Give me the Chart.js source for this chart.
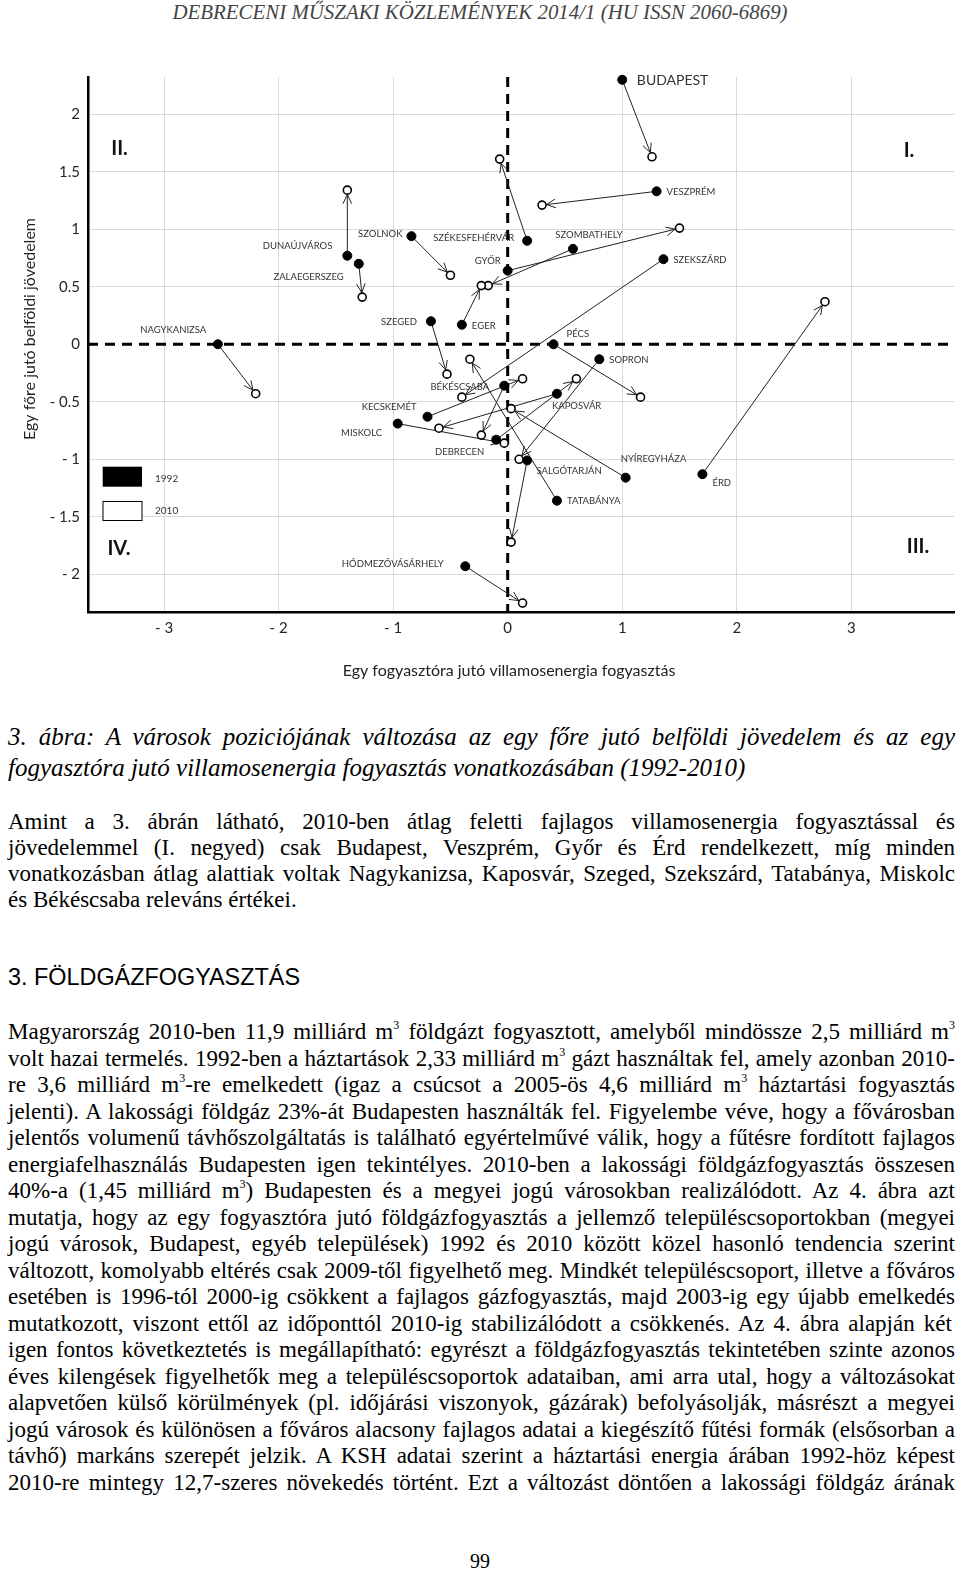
<!DOCTYPE html>
<html>
<head>
<meta charset="utf-8">
<script src="https://cdn.jsdelivr.net/npm/chart.js@4.4.0/dist/chart.umd.min.js"></script>
<style>
body{margin:0;width:960px;height:1575px;position:relative;background:#fff;overflow:hidden}
#chart{position:absolute;left:0;top:0}
.ln{position:absolute;left:8px;white-space:nowrap;font-family:"Liberation Serif","Times New Roman",serif;font-size:23px;line-height:26px;color:#000}
.it{font-style:italic;font-size:25px;line-height:30px}
sup{font-size:12px;line-height:0;vertical-align:0;position:relative;top:-10px}
#head{position:absolute;left:0;width:960px;top:0px;text-align:center;font-family:"Liberation Serif",serif;font-style:italic;font-size:20.9px;color:#444;white-space:nowrap}
#h3{position:absolute;left:8px;top:964px;font-family:"Liberation Sans",Arial,sans-serif;font-size:23.4px;color:#000;white-space:nowrap}
#pg{position:absolute;left:0;width:960px;top:1550px;text-align:center;font-family:"Liberation Serif",serif;font-size:20px;color:#000}
</style>
</head>
<body>
<div id="head">DEBRECENI MŰSZAKI KÖZLEMÉNYEK 2014/1 (HU ISSN 2060-6869)</div>
<canvas id="chart" width="960" height="700"></canvas>

<div class="ln it j" style="top:722px">3. ábra: A városok poziciójának változása az egy főre jutó belföldi jövedelem és az egy</div>
<div class="ln it" style="top:753px">fogyasztóra jutó villamosenergia fogyasztás vonatkozásában (1992-2010)</div>

<div class="ln j" style="top:809px">Amint a 3. ábrán látható, 2010-ben átlag feletti fajlagos villamosenergia fogyasztással és</div>
<div class="ln j" style="top:835px">jövedelemmel (I. negyed) csak Budapest, Veszprém, Győr és Érd rendelkezett, míg minden</div>
<div class="ln j" style="top:861px">vonatkozásban átlag alattiak voltak Nagykanizsa, Kaposvár, Szeged, Szekszárd, Tatabánya, Miskolc</div>
<div class="ln" style="top:887px">és Békéscsaba releváns értékei.</div>

<div id="h3">3. FÖLDGÁZFOGYASZTÁS</div>

<div class="ln j" style="top:1019px">Magyarország 2010-ben 11,9 milliárd m<sup>3</sup> földgázt fogyasztott, amelyből mindössze 2,5 milliárd m<sup>3</sup></div>
<div class="ln j" style="top:1045.5px">volt hazai termelés. 1992-ben a háztartások 2,33 milliárd m<sup>3</sup> gázt használtak fel, amely azonban 2010-</div>
<div class="ln j" style="top:1072px">re 3,6 milliárd m<sup>3</sup>-re emelkedett (igaz a csúcsot a 2005-ös 4,6 milliárd m<sup>3</sup> háztartási fogyasztás</div>
<div class="ln j" style="top:1098.5px">jelenti). A lakossági földgáz 23%-át Budapesten használták fel. Figyelembe véve, hogy a fővárosban</div>
<div class="ln j" style="top:1125px">jelentős volumenű távhőszolgáltatás is található egyértelművé válik, hogy a fűtésre fordított fajlagos</div>
<div class="ln j" style="top:1151.5px">energiafelhasználás Budapesten igen tekintélyes. 2010-ben a lakossági földgázfogyasztás összesen</div>
<div class="ln j" style="top:1178px">40%-a (1,45 milliárd m<sup>3</sup>) Budapesten és a megyei jogú városokban realizálódott. Az 4. ábra azt</div>
<div class="ln j" style="top:1204.5px">mutatja, hogy az egy fogyasztóra jutó földgázfogyasztás a jellemző településcsoportokban (megyei</div>
<div class="ln j" style="top:1231px">jogú városok, Budapest, egyéb települések) 1992 és 2010 között közel hasonló tendencia szerint</div>
<div class="ln j" style="top:1257.5px">változott, komolyabb eltérés csak 2009-től figyelhető meg. Mindkét településcsoport, illetve a főváros</div>
<div class="ln j" style="top:1284px">esetében is 1996-tól 2000-ig csökkent a fajlagos gázfogyasztás, majd 2003-ig egy újabb emelkedés</div>
<div class="ln j" style="top:1310.5px">mutatkozott, viszont ettől az időponttól 2010-ig stabilizálódott a csökkenés.  Az 4. ábra alapján két</div>
<div class="ln j" style="top:1337px">igen fontos következtetés is megállapítható: egyrészt a földgázfogyasztás tekintetében szinte azonos</div>
<div class="ln j" style="top:1363.5px">éves kilengések figyelhetők meg a településcsoportok adataiban, ami arra utal, hogy a változásokat</div>
<div class="ln j" style="top:1390px">alapvetően külső körülmények (pl. időjárási viszonyok, gázárak) befolyásolják, másrészt a megyei</div>
<div class="ln j" style="top:1416.5px">jogú városok és különösen a főváros alacsony fajlagos adatai a kiegészítő fűtési formák (elsősorban a</div>
<div class="ln j" style="top:1443px">távhő) markáns szerepét jelzik. A KSH adatai szerint a háztartási energia árában 1992-höz képest</div>
<div class="ln j" style="top:1469.5px">2010-re mintegy 12,7-szeres növekedés történt. Ezt a változást döntően a lakossági földgáz árának</div>

<div id="pg">99</div>

<script>
// villamosenergia (x) es jovedelem (y) eltérés az átlagtól, 1992 -> 2010
var cities = ['BUDAPEST','VESZPRÉM','SZÉKESFEHÉRVÁR','SZOMBATHELY','GYŐR','SZEKSZÁRD','DUNAÚJVÁROS','ZALAEGERSZEG','SZOLNOK','SZEGED','EGER','NAGYKANIZSA','PÉCS','SOPRON','BÉKÉSCSABA','KECSKEMÉT','KAPOSVÁR','MISKOLC','DEBRECEN','NYÍREGYHÁZA','SALGÓTARJÁN','ÉRD','TATABÁNYA','HÓDMEZŐVÁSÁRHELY']
var villany1992 = [1.00, 1.30, 0.17, 0.57, 0.00, 1.36, -1.40, -1.30, -0.84, -0.67, -0.40, -2.53, 0.40, 0.80, -0.03, -0.70, 0.43, -0.96, -0.10, 1.03, 0.17, 1.70, 0.43, -0.37]
var jovedelem1992 = [2.30, 1.33, 0.90, 0.83, 0.64, 0.74, 0.77, 0.70, 0.94, 0.20, 0.17, 0.00, 0.00, -0.13, -0.36, -0.63, -0.43, -0.69, -0.83, -1.16, -1.01, -1.13, -1.36, -1.93]
var villany2010 = [1.26, 0.30, -0.07, -0.17, 1.50, -0.40, -1.40, -1.27, -0.50, -0.53, -0.23, -2.20, 1.16, 0.10, -0.23, 0.13, -0.60, -0.03, 0.60, 0.03, 0.03, 2.77, -0.33, 0.13]
var jovedelem2010 = [1.63, 1.21, 1.61, 0.51, 1.01, -0.46, 1.34, 0.41, 0.60, -0.26, 0.51, -0.43, -0.46, -1.00, -0.79, -0.30, -0.73, -0.86, -0.30, -0.56, -1.72, 0.37, -0.13, -2.25]

var xTicks = [-3, -2, -1, 0, 1, 2, 3]
var xTickLabels = ['- 3', '- 2', '- 1', '0', '1', '2', '3']
var yTicks = [-2, -1.5, -1, -0.5, 0, 0.5, 1, 1.5, 2]
var yTickLabels = ['- 2', '- 1.5', '- 1', '- 0.5', '0', '0.5', '1', '1.5', '2']
var quadrants = ['I.', 'II.', 'III.', 'IV.']
var years = ['1992', '2010']

// label placement next to the 1992 dot: dx, dy, align
var labelPos = [
  [14.6, 1, 'left'], [10, 1, 'left'], [-13, -3, 'right'], [-17.6, -14, 'left'],
  [-7, -10, 'right'], [10, 1, 'left'], [-15, -10, 'right'], [-15, 13, 'right'],
  [-9, -2, 'right'], [-14, 1, 'right'], [10, 1, 'left'], [-11.6, -14.4, 'right'],
  [13, -10, 'left'], [10, 1, 'left'], [-15, 1.5, 'right'], [-11, -10, 'right'],
  [-5, 12.6, 'left'], [-15.6, 9, 'right'], [-12, 12.7, 'right'], [-5, -18.4, 'left'],
  [9.4, 10.7, 'left'], [10, 8.6, 'left'], [10, 0, 'left'], [-21.7, -2.7, 'right']
]

var FONT = 'Lato, "Open Sans", sans-serif'

var extras = {
  id: 'extras',
  beforeDatasetsDraw: function(chart) {
    var c = chart.ctx, a = chart.chartArea
    var xs = chart.scales.x, ys = chart.scales.y
    var x0 = xs.getPixelForValue(0), y0 = ys.getPixelForValue(0)
    c.save()
    c.strokeStyle = '#000'
    c.lineWidth = 3
    c.setLineDash([10, 7])
    c.beginPath()
    c.moveTo(a.left, y0); c.lineTo(952, y0)
    c.moveTo(x0, a.top); c.lineTo(x0, a.bottom)
    c.stroke()
    c.setLineDash([])
    // arrows 1992 -> 2010
    c.lineWidth = 1
    c.strokeStyle = '#222'
    for (var i = 0; i < cities.length; i++) {
      var x1 = xs.getPixelForValue(villany1992[i]), y1 = ys.getPixelForValue(jovedelem1992[i])
      var x2 = xs.getPixelForValue(villany2010[i]), y2 = ys.getPixelForValue(jovedelem2010[i])
      var dx = x2 - x1, dy = y2 - y1, len = Math.sqrt(dx * dx + dy * dy)
      var ux = dx / len, uy = dy / len
      var ex = x2 - ux * 4.5, ey = y2 - uy * 4.5
      c.beginPath()
      c.moveTo(x1, y1); c.lineTo(ex, ey)
      var ang = Math.atan2(uy, ux)
      for (var s = -1; s <= 1; s += 2) {
        var aa = ang + Math.PI + s * 0.45
        c.moveTo(ex, ey); c.lineTo(ex + Math.cos(aa) * 10, ey + Math.sin(aa) * 10)
      }
      c.stroke()
    }
    c.restore()
  },
  afterDatasetsDraw: function(chart) {
    var c = chart.ctx
    var xs = chart.scales.x, ys = chart.scales.y
    c.save()
    c.fillStyle = '#333'
    c.textBaseline = 'middle'
    for (var i = 0; i < cities.length; i++) {
      var px = xs.getPixelForValue(villany1992[i]), py = ys.getPixelForValue(jovedelem1992[i])
      var lp = labelPos[i]
      c.font = (i === 0 ? '14px ' : '9.5px ') + FONT
      c.textAlign = lp[2]
      c.fillText(cities[i], px + lp[0], py + lp[1])
    }
    // quadrant labels
    c.font = 'bold 20px ' + FONT
    c.fillStyle = '#111'
    c.textAlign = 'center'
    c.fillText(quadrants[0], 909, 151)
    c.fillText(quadrants[1], 119.5, 149)
    c.fillText(quadrants[2], 918, 547)
    c.fillText(quadrants[3], 119, 549)
    // legend
    c.fillStyle = '#000'
    c.fillRect(102.7, 466.7, 39.3, 20)
    c.fillStyle = '#fff'
    c.fillRect(103, 501.5, 39, 19)
    c.strokeStyle = '#000'
    c.lineWidth = 1
    c.strokeRect(103, 501.5, 39, 19)
    c.fillStyle = '#333'
    c.font = '10px ' + FONT
    c.textAlign = 'left'
    c.fillText(years[0], 155, 479)
    c.fillText(years[1], 155, 511)
    // axis titles
    c.font = '16px ' + FONT
    c.fillStyle = '#222'
    c.textAlign = 'center'
    c.fillText('Egy fogyasztóra jutó villamosenergia fogyasztás', 509, 671)
    c.translate(30, 329)
    c.rotate(-Math.PI / 2)
    c.fillText('Egy főre jutó belföldi jövedelem', 0, 0)
    c.restore()
  }
}

function drawChart() {
  var ctx = document.getElementById('chart').getContext('2d')
  var gridColor = function(g) { return g.tick && g.tick.value === 0 ? 'rgba(0,0,0,0)' : '#d9d9d9' }
  new Chart(ctx, {
    type: 'scatter',
    data: {
      datasets: [{
        label: years[0],
        data: cities.map(function(c, i) { return {x: villany1992[i], y: jovedelem1992[i]} }),
        pointRadius: 4.5,
        pointBackgroundColor: '#000',
        pointBorderColor: '#000',
        pointBorderWidth: 1,
        clip: false
      }, {
        label: years[1],
        data: cities.map(function(c, i) { return {x: villany2010[i], y: jovedelem2010[i]} }),
        pointRadius: 4,
        pointBackgroundColor: '#fff',
        pointBorderColor: '#000',
        pointBorderWidth: 1.6,
        clip: false
      }]
    },
    options: {
      responsive: false,
      animation: false,
      events: [],
      layout: {padding: {top: 77, right: 3, left: 0, bottom: 0}},
      plugins: {legend: {display: false}, tooltip: {enabled: false}},
      scales: {
        x: {
          type: 'linear', min: -3.664, max: 3.9,
          afterBuildTicks: function(s) { s.ticks = xTicks.map(function(v) { return {value: v} }) },
          afterFit: function(s) { s.height = 88 },
          grid: {color: gridColor, drawTicks: false, lineWidth: 1},
          border: {color: '#000', width: 2.5},
          ticks: {padding: 7, autoSkip: false, maxRotation: 0, color: '#262626', font: {family: FONT, size: 15},
            callback: function(v, i) { return xTickLabels[i] }}
        },
        y: {
          type: 'linear', min: -2.328, max: 2.324,
          afterBuildTicks: function(s) { s.ticks = yTicks.map(function(v) { return {value: v} }) },
          afterFit: function(s) { s.width = 88 },
          grid: {color: gridColor, drawTicks: false, lineWidth: 1},
          border: {color: '#000', width: 2.5},
          ticks: {padding: 8, autoSkip: false, color: '#262626', font: {family: FONT, size: 15},
            callback: function(v, i) { return yTickLabels[i] }}
        }
      }
    },
    plugins: [extras]
  })
}

function justifyLines() {
  var W = 947
  document.querySelectorAll('.j').forEach(function(el) {
    var w = el.getBoundingClientRect().width
    var n = (el.textContent.match(/ /g) || []).length
    if (n) el.style.wordSpacing = ((W - w) / n) + 'px'
  })
}

document.addEventListener('DOMContentLoaded', function() {
  drawChart()
  justifyLines()
})
</script>
</body>
</html>
